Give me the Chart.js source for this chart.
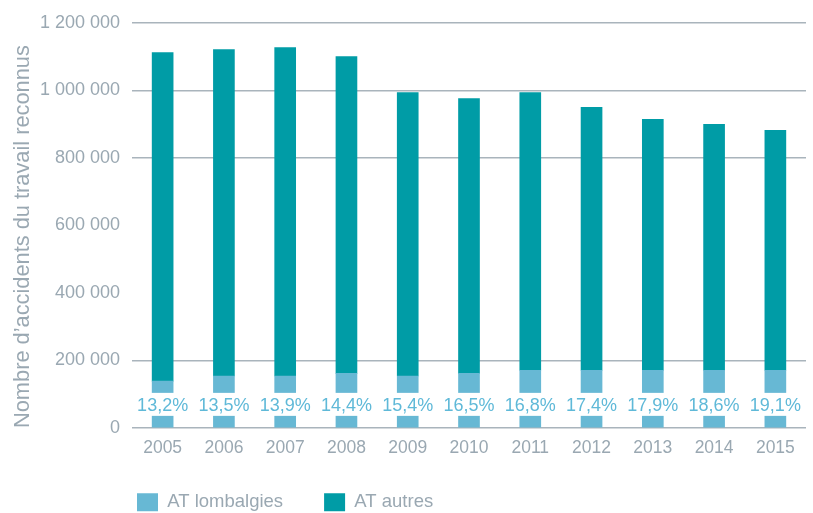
<!DOCTYPE html>
<html>
<head>
<meta charset="utf-8">
<script src="https://cdn.jsdelivr.net/npm/chart.js@4"></script>
<style>
  body { margin: 0; background: #fff; }
  #wrap { width: 813px; height: 513px; position: relative; }
</style>
</head>
<body>
<div id="wrap"><canvas id="atChart"></canvas></div>
<script>
const years = ['2005', '2006', '2007', '2008', '2009', '2010', '2011', '2012', '2013', '2014', '2015'];
const lombalgies = [139000, 154000, 154000, 162000, 154000, 162000, 171000, 171000, 171000, 171000, 171000];
const autres = [972500, 966400, 972300, 937800, 839600, 813900, 822600, 778400, 743000, 728300, 710600];
const shares = ['13,2%', '13,5%', '13,9%', '14,4%', '15,4%', '16,5%', '16,8%', '17,4%', '17,9%', '18,6%', '19,1%'];
const yTicks = [0, 200000, 400000, 600000, 800000, 1000000, 1200000];
const hiddenGrid = [400000, 600000];

const grey = '#9aa8b2';
const light = '#67b8d4';
const dark = '#009ca6';

Chart.defaults.font.family = "'Liberation Sans', Arial, sans-serif";
Chart.defaults.color = grey;

// percentage labels sitting on the light bars, with a white band behind
const shareLabels = {
    id: 'shareLabels',
    afterDatasetsDraw(chart) {
        const ctx = chart.ctx;
        const meta = chart.getDatasetMeta(0);
        const y = chart.scales.y.getPixelForValue(70000);
        ctx.save();
        ctx.font = "18px 'Liberation Sans', Arial, sans-serif";
        ctx.textAlign = 'center';
        ctx.textBaseline = 'middle';
        meta.data.forEach((bar, i) => {
            const w = ctx.measureText(shares[i]).width;
            ctx.fillStyle = '#fff';
            ctx.fillRect(bar.x - w / 2 - 2, y - 11.5, w + 4, 23);
            ctx.fillStyle = '#5fb9d8';
            ctx.fillText(shares[i], bar.x, y + 1.5);
        });
        ctx.restore();
    }
};

// legend starts under the plot, not at the canvas edge
const legendShift = {
    id: 'legendShift',
    afterLayout(chart) {
        const lg = chart.legend;
        lg.left += 86;
        lg.right += 86;
        lg.top -= 10;
    }
};

new Chart(document.getElementById('atChart'), {
    type: 'bar',
    data: {
        labels: years,
        datasets: [
        {
            label: 'AT lombalgies',
            data: lombalgies,
            backgroundColor: light,
            borderWidth: 0,
            barThickness: 21,
        },
        {
            label: 'AT autres',
            data: autres,
            backgroundColor: dark,
            borderWidth: 0,
            barThickness: 21,
        }
        ]
    },
    options: {
        responsive: true,
        maintainAspectRatio: false,
        animation: false,
        layout: {
            padding: {top: 21, right: 7, left: 10, bottom: 0}
        },
        scales: {
            x: {
                stacked: true,
                afterFit: s => { s.height = 34; },
                grid: {display: false, drawTicks: false},
                border: {display: false},
                ticks: {
                    padding: 10,
                    color: grey,
                    font: {size: 17.5}
                }
            },
            y: {
                stacked: true,
                min: 0,
                max: 1200000,
                afterFit: s => { s.width = 122; },
                afterBuildTicks: scale => {
                    scale.ticks = yTicks.map(v => ({value: v}));
                },
                border: {display: false},
                grid: {
                    drawTicks: false,
                    lineWidth: 1.5,
                    color: c => hiddenGrid.includes(c.tick.value) ? 'rgba(0,0,0,0)' : '#a9b4bc'
                },
                ticks: {
                    padding: 12,
                    color: grey,
                    font: {size: 18},
                    callback: v => String(v).replace(/\B(?=(\d{3})+(?!\d))/g, ' ')
                },
                title: {
                    display: true,
                    align: 'start',
                    text: 'Nombre d\u2019accidents du travail reconnus',
                    color: grey,
                    font: {size: 21.8},
                    padding: {top: 0, bottom: 4}
                }
            }
        },
        plugins: {
            legend: {
                position: 'bottom',
                align: 'start',
                maxHeight: 51,
                labels: {
                    boxWidth: 21,
                    boxHeight: 18,
                    padding: 41,
                    color: grey,
                    font: {size: 18.5}
                }
            },
            tooltip: {enabled: false}
        }
    },
    plugins: [shareLabels, legendShift]
});
</script>
</body>
</html>
